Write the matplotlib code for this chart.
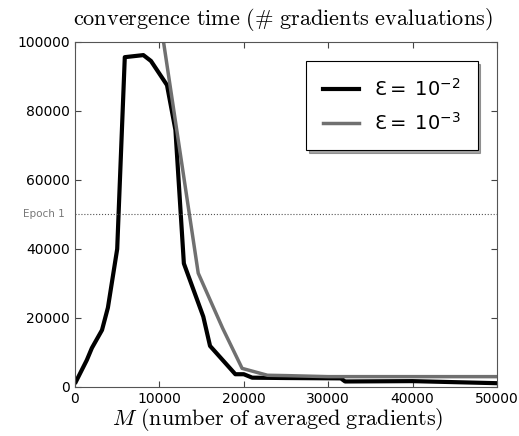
import matplotlib
matplotlib.use('Agg')
from matplotlib import pyplot as plt

# black curve: eps = 1e-2
m_e2 = [100, 1400, 2000, 3200, 3900, 5000, 5900, 8100, 9000, 10900, 11900,
        12900, 15200, 16000, 19000, 20000, 21000, 25000, 31500, 32000, 40000, 50000]
t_e2 = [1500, 7800, 11300, 16500, 23000, 40000, 95600, 96200, 94500, 87500, 74500,
        35800, 20400, 11900, 3700, 3700, 2700, 2600, 2500, 1600, 1700, 1100]

# gray curve: eps = 1e-3
m_e3 = [10000, 14600, 17500, 19800, 22800, 25000, 30000, 40000, 50000]
t_e3 = [108000, 33000, 17000, 5400, 3400, 3300, 3000, 3000, 3000]

epoch_1 = 50000

plt.rcParams['mathtext.fontset'] = 'cm'
plt.rcParams['xtick.direction'] = 'in'
plt.rcParams['ytick.direction'] = 'in'
plt.rcParams['xtick.top'] = True
plt.rcParams['ytick.right'] = True

fig = plt.figure(figsize=(5.19, 4.36), dpi=100)
ax = fig.add_axes([0.1445, 0.1124, 0.8131, 0.7913])

ax.plot(m_e2, t_e2, color='black', linewidth=3,
        label=r'Ɛ$\mathregular{=\ 10^{-2}}$')
ax.plot(m_e3, t_e3, color='#707070', linewidth=2.5,
        label=r'Ɛ$\mathregular{=\ 10^{-3}}$')
ax.axhline(epoch_1, color='#555555', linestyle=':', linewidth=0.8)
ax.text(-1200, epoch_1, 'Epoch 1', color='#777777', fontsize=7.5,
        ha='right', va='center')

ax.set_xlim(0, 50000)
ax.set_ylim(0, 100000)
ax.set_xticks(range(0, 50001, 10000))
ax.set_yticks(range(0, 100001, 20000))
ax.tick_params(labelsize=10, length=4, color='#444444')
for s in ax.spines.values():
    s.set_color('#555555')

ax.set_title(r'$\mathrm{convergence\ time\ (\#\ gradients\ evaluations)}$',
             fontsize=16, pad=12, x=0.492)
ax.set_xlabel(r'$M\ \mathrm{(number\ of\ averaged\ gradients)}$', fontsize=16,
              labelpad=0)
ax.xaxis.label.set_x(0.481)

leg = ax.legend(loc='upper right', fontsize=14, shadow=True, fancybox=False,
                framealpha=1, edgecolor='black', borderpad=0.85, labelspacing=0.6,
                handlelength=1.85, handletextpad=0.8,
                bbox_to_anchor=(0.977, 0.972))
leg.get_frame().set_linewidth(0.8)

fig.savefig('out.png', dpi=100)
